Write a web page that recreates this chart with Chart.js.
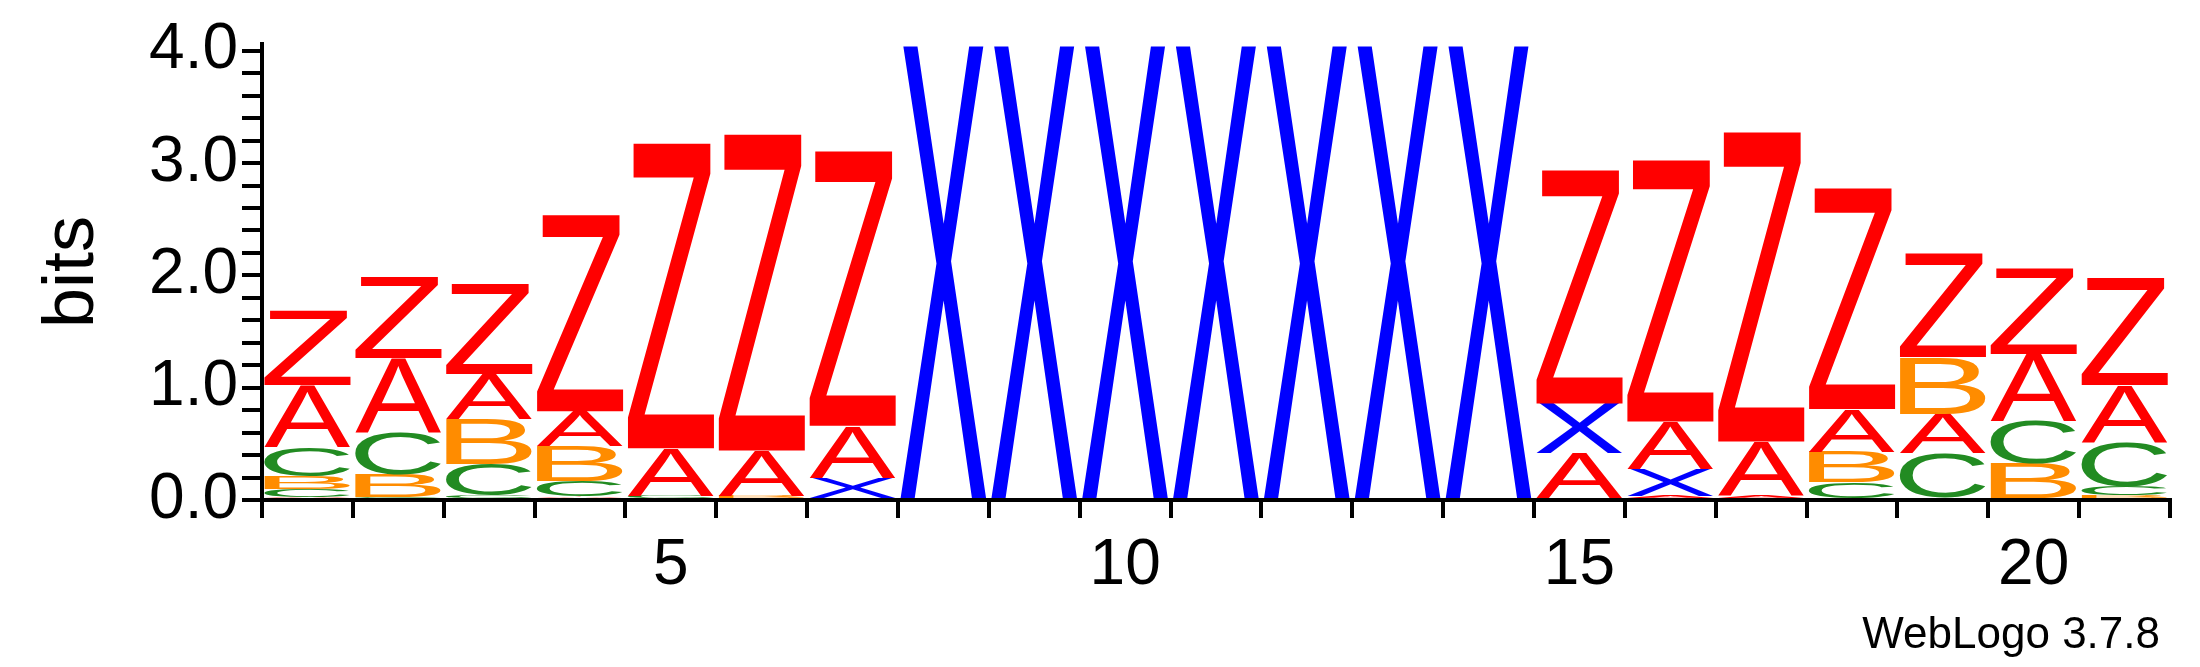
<!DOCTYPE html>
<html>
<head>
<meta charset="utf-8">
<script src="https://cdn.jsdelivr.net/npm/chart.js@4"></script>
<style>
  body { margin: 0; background: #fff; }
  #wrap { width: 2200px; height: 667px; }
</style>
</head>
<body>
<div id="wrap"><canvas id="logo"></canvas></div>
<script>
// positions 1..21
const positions = ['1','2','3','4','5','6','7','8','9','10','11','12','13','14','15','16','17','18','19','20','21'];

// letter stacks, bottom to top: [letter, height in bits]
const col1 = [['A',0.03],['C',0.07],['B',0.11],['C',0.26],['A',0.55],['Z',0.66]];
const col2 = [['C',0.03],['B',0.2],['C',0.37],['A',0.66],['Z',0.72]];
const col3 = [['C',0.04],['C',0.28],['B',0.4],['A',0.4],['Z',0.8]];
const col4 = [['A',0.03],['C',0.14],['B',0.31],['A',0.31],['Z',1.75]];
const col5 = [['C',0.04],['A',0.42],['Z',2.72]];
const col6 = [['B',0.04],['A',0.4],['Z',2.82]];
const col7 = [['X',0.2],['A',0.46],['Z',2.45]];
const col8 = [['X',4.05]];
const col9 = [['X',4.05]];
const col10 = [['X',4.05]];
const col11 = [['X',4.05]];
const col12 = [['X',4.05]];
const col13 = [['X',4.05]];
const col14 = [['X',4.05]];
const col15 = [['A',0.42],['X',0.44],['Z',2.08]];
const col16 = [['A',0.04],['X',0.24],['A',0.42],['Z',2.33]];
const col17 = [['A',0.04],['A',0.48],['Z',2.76]];
const col18 = [['C',0.16],['B',0.27],['A',0.38],['Z',1.97]];
const col19 = [['C',0.42],['A',0.35],['B',0.5],['Z',0.92]];
const col20 = [['B',0.32],['C',0.38],['A',0.6],['Z',0.76]];
const col21 = [['B',0.04],['C',0.08],['C',0.4],['A',0.5],['Z',0.96]];

const columns = [col1,col2,col3,col4,col5,col6,col7,col8,col9,col10,col11,col12,col13,col14,
                 col15,col16,col17,col18,col19,col20,col21];

const yTicks = [0, 1, 2, 3, 4];

const letterColors = { A: '#ff0000', Z: '#ff0000', B: '#ff8c00', C: '#228b22', X: '#0000ff' };

// one dataset per stack layer
const layers = Math.max(...columns.map(c => c.length));
const datasets = [];
for (let l = 0; l < layers; l++) {
    datasets.push({
        data: columns.map(c => c[l] ? c[l][1] : 0),
        letters: columns.map(c => c[l] ? c[l][0] : ''),
        backgroundColor: 'rgba(0,0,0,0)',
        borderWidth: 0,
        barPercentage: 0.95,
        categoryPercentage: 1.0
    });
}

// stretch each letter glyph into its bar box
const letterPlugin = {
    id: 'letters',
    afterDatasetsDraw(chart) {
        const ctx = chart.ctx;
        chart.data.datasets.forEach((ds, di) => {
            chart.getDatasetMeta(di).data.forEach((bar, i) => {
                const ch = ds.letters[i];
                if (!ch) return;
                const top = bar.y, bottom = bar.base;
                const h = bottom - top;
                if (h < 0.5) return;
                const w = bar.width;
                ctx.save();
                ctx.font = '100px "Liberation Sans", Arial, sans-serif';
                const m = ctx.measureText(ch);
                const gw = m.actualBoundingBoxLeft + m.actualBoundingBoxRight;
                const gh = m.actualBoundingBoxAscent + m.actualBoundingBoxDescent;
                ctx.translate(bar.x - w / 2, top);
                ctx.scale(w / gw, h / gh);
                ctx.fillStyle = letterColors[ch];
                ctx.textBaseline = 'alphabetic';
                ctx.fillText(ch, m.actualBoundingBoxLeft, m.actualBoundingBoxAscent);
                ctx.restore();
            });
        });
    },
    afterDraw(chart) {
        const ctx = chart.ctx;
        ctx.save();
        ctx.font = '44px "Liberation Sans", Arial, sans-serif';
        ctx.fillStyle = '#000';
        ctx.textAlign = 'right';
        ctx.textBaseline = 'alphabetic';
        ctx.fillText('WebLogo 3.7.8', 2160, 648);
        ctx.restore();
    }
};

new Chart(document.getElementById('logo'), {
    type: 'bar',
    data: { labels: positions, datasets: datasets },
    plugins: [letterPlugin],
    options: {
        responsive: true,
        maintainAspectRatio: false,
        animation: false,
        layout: { padding: { left: 30, right: 30, top: 44, bottom: 0 } },
        plugins: { legend: { display: false }, tooltip: { enabled: false } },
        scales: {
            x: {
                stacked: true,
                afterFit: s => { s.height = 167; },
                border: { display: true, color: '#000', width: 4 },
                grid: { drawOnChartArea: false, drawTicks: true, tickLength: 18, color: '#000', lineWidth: 4 },
                ticks: {
                    color: '#000',
                    font: { size: 64, family: '"Liberation Sans", Arial, sans-serif' },
                    maxRotation: 0,
                    autoSkip: false,
                    padding: 10,
                    callback: (v, i) => ((i + 1) % 5 === 0 ? String(i + 1) : '')
                }
            },
            y: {
                stacked: true,
                min: 0,
                max: 4.06,
                afterFit: s => { s.width = 232; },
                afterBuildTicks: s => {
                    const t = [];
                    for (let k = 0; k <= 20; k++) t.push({ value: k * 0.2 });
                    s.ticks = t;
                },
                border: { display: true, color: '#000', width: 4 },
                grid: { drawOnChartArea: false, drawTicks: true, tickLength: 20, color: '#000', lineWidth: 4 },
                title: {
                    display: true,
                    text: 'bits',
                    color: '#000',
                    font: { size: 72, family: '"Liberation Sans", Arial, sans-serif' },
                    padding: 0
                },
                ticks: {
                    color: '#000',
                    font: { size: 64, family: '"Liberation Sans", Arial, sans-serif' },
                    padding: 4,
                    autoSkip: false,
                    callback: v => {
                        const r = Math.round(v);
                        return yTicks.includes(r) && Math.abs(v - r) < 1e-6 ? r.toFixed(1) : '';
                    }
                }
            }
        }
    }
});
</script>
</body>
</html>
